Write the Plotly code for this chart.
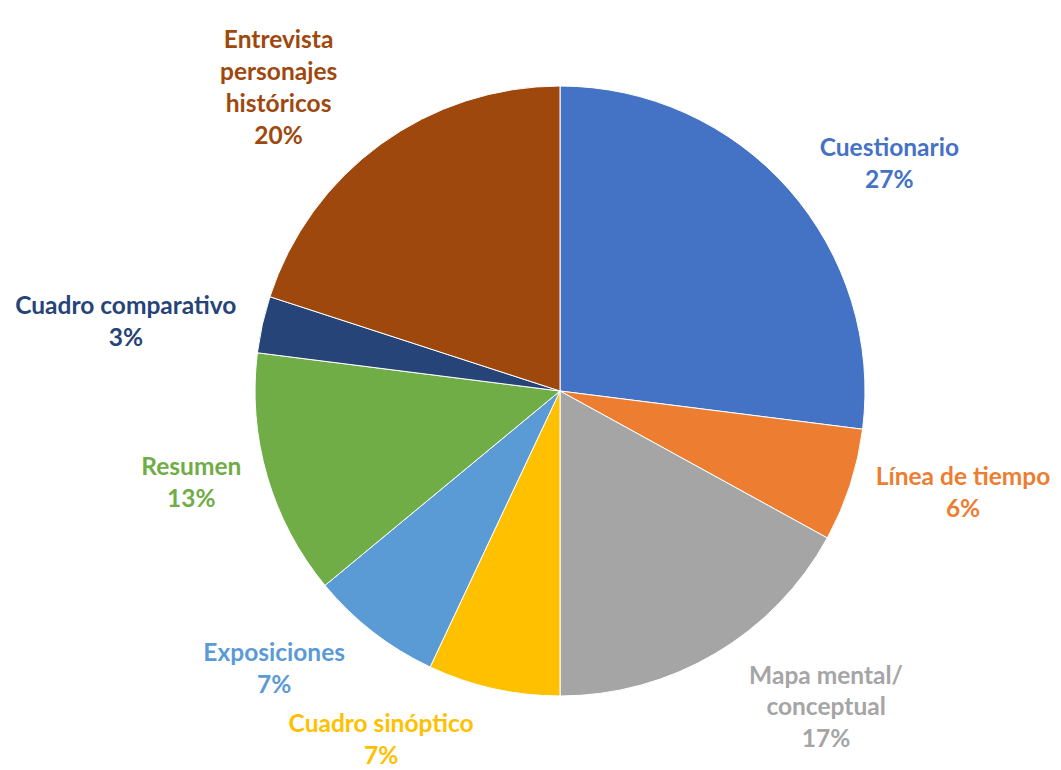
import math
import plotly.graph_objects as go

# Actividades y porcentaje (lectura de la gráfica)
categorias = ["Cuestionario", "Línea de tiempo", "Mapa mental/<br>conceptual",
              "Cuadro sinóptico", "Exposiciones", "Resumen",
              "Cuadro comparativo", "Entrevista<br>personajes<br>históricos"]
porcentajes = [27, 6, 17, 7, 7, 13, 3, 20]
colores = ["#4472C4", "#ED7D31", "#A5A5A5", "#FFC000",
           "#5B9BD5", "#70AD47", "#264478", "#9E480E"]

etiquetas = [f"{c}<br>{p}%" for c, p in zip(categorias, porcentajes)]

W, H = 1061, 770
cx, cy, r = 552, 383, 305   # centro y radio del pastel (px dentro de la figura)
sep_lado, sep_resto = 11, 21  # separación de etiquetas laterales / resto


def dominio(radio):
    return dict(x=[(cx - radio) / W, (cx + radio) / W],
                y=[1 - (cy + radio) / H, 1 - (cy - radio) / H])


# ángulo medio de cada sector (sentido horario desde arriba)
total = sum(porcentajes)
acum, lateral = 0, []
for p in porcentajes:
    ang = 2 * math.pi * (acum + p / 2) / total
    lateral.append(abs(math.sin(ang)) > 0.85)
    acum += p

fig = go.Figure()

# pastel visible
fig.add_trace(go.Pie(
    labels=categorias,
    values=porcentajes,
    textinfo="none",
    sort=False,
    direction="clockwise",
    rotation=0,
    marker=dict(colors=colores, line=dict(color="white", width=1)),
    domain=dominio(r),
    showlegend=False,
    hoverinfo="label+percent",
))

# pasteles transparentes algo mayores, solo para las etiquetas externas
for es_lado, sep in [(True, sep_lado), (False, sep_resto)]:
    textos = [t if l == es_lado else "" for t, l in zip(etiquetas, lateral)]
    fig.add_trace(go.Pie(
        labels=categorias,
        values=porcentajes,
        text=textos,
        textinfo="text",
        textposition="outside",
        sort=False,
        direction="clockwise",
        rotation=0,
        marker=dict(colors=["rgba(0,0,0,0)"] * len(colores),
                    line=dict(width=0)),
        outsidetextfont=dict(family="Lato", size=24.5, color=colores,
                             weight="bold"),
        domain=dominio(r + sep),
        showlegend=False,
        hoverinfo="skip",
    ))

fig.update_layout(
    width=W, height=H,
    margin=dict(l=0, r=0, t=0, b=0, autoexpand=False),
    paper_bgcolor="white",
    font=dict(family="Lato"),
)

fig.write_html("out.html")
